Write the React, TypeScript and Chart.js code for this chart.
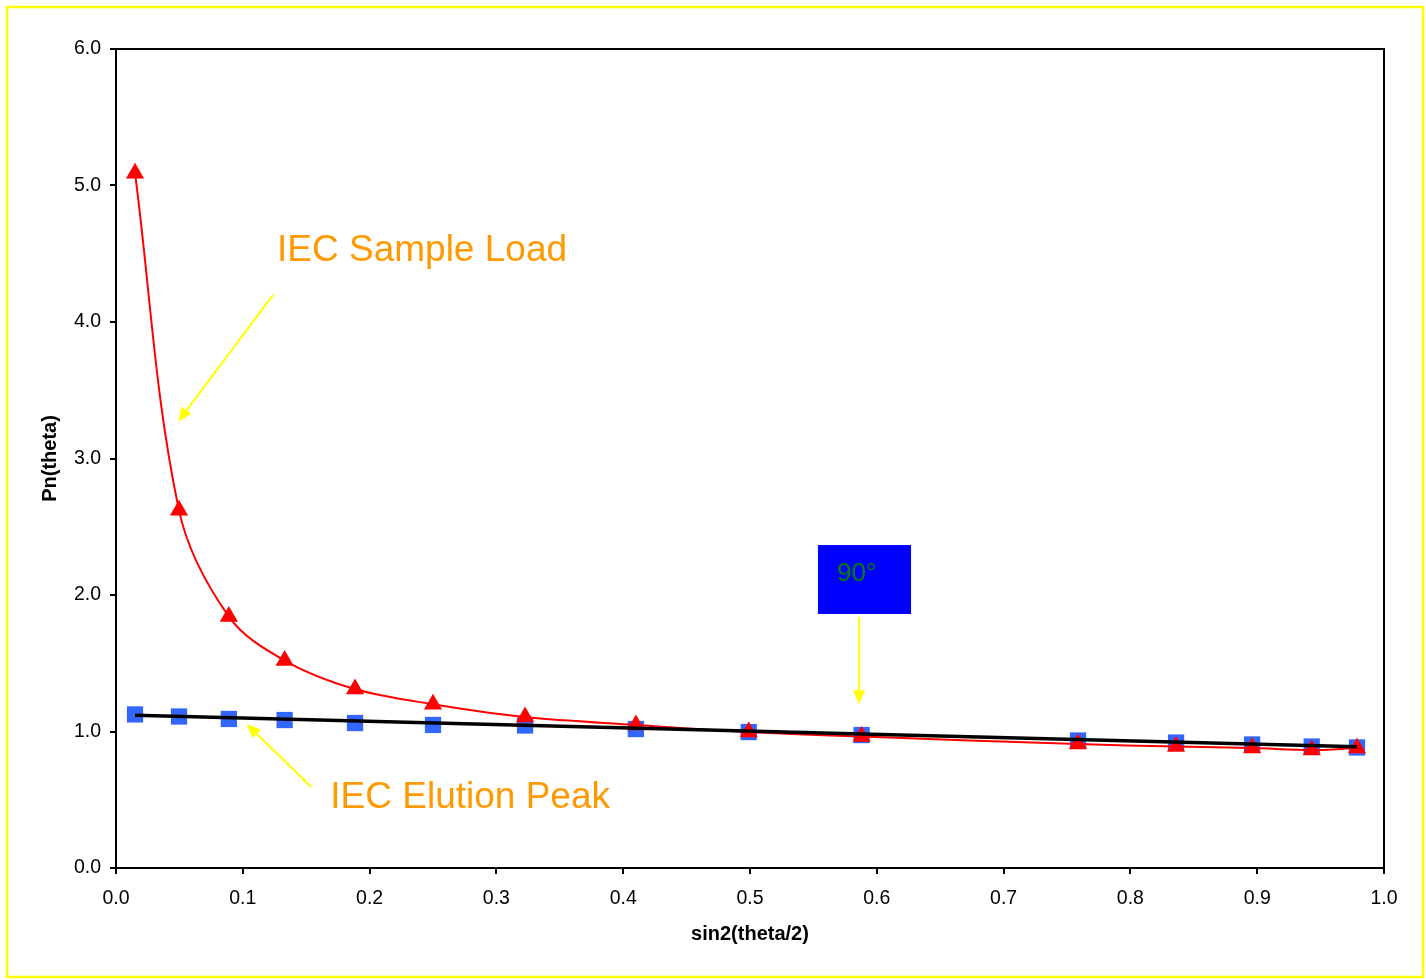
import React, { useEffect, useRef } from "react";
import { Chart, registerables } from "chart.js";

Chart.register(...registerables);

const xValues = [0.015, 0.0497, 0.089, 0.133, 0.1885, 0.25, 0.3226, 0.41, 0.499, 0.588, 0.7587, 0.836, 0.896, 0.943, 0.9787];
const sampleLoad = [5.09, 2.62, 1.842, 1.52, 1.311, 1.2, 1.106, 1.048, 0.996, 0.963, 0.908, 0.89, 0.879, 0.864, 0.879];
const elutionPeak = [1.125, 1.11, 1.092, 1.084, 1.062, 1.048, 1.044, 1.018, 0.996, 0.974, 0.934, 0.919, 0.905, 0.89, 0.883];
const trendX = [0.015, 0.9787];
const trendY = [1.119, 0.889];

const xTicks = [0, 0.1, 0.2, 0.3, 0.4, 0.5, 0.6, 0.7, 0.8, 0.9, 1.0];
const yTicks = [0, 1, 2, 3, 4, 5, 6];

const xTitle = "sin2(theta/2)";
const yTitle = "Pn(theta)";

const labelLoad = "IEC Sample Load";
const labelElution = "IEC Elution Peak";
const label90 = "90°";

const FONT = "'Liberation Sans', Arial, sans-serif";

const decorPlugin = {
  id: "decor",
  beforeDraw(chart: any) {
    const { ctx, width, height } = chart;
    ctx.save();
    ctx.fillStyle = "#ffffff";
    ctx.fillRect(0, 0, width, height);
    ctx.restore();
  },
  beforeDatasetsDraw(chart: any) {
    const { ctx, chartArea } = chart;
    ctx.save();
    ctx.strokeStyle = "#000000";
    ctx.lineWidth = 2;
    ctx.beginPath();
    ctx.moveTo(chartArea.left, chartArea.top);
    ctx.lineTo(chartArea.right, chartArea.top);
    ctx.lineTo(chartArea.right, chartArea.bottom);
    ctx.stroke();
    ctx.restore();
  },
  afterDraw(chart: any) {
    const { ctx, chartArea, width, height } = chart;
    const xs = chart.scales.x;
    const ys = chart.scales.y;
    const px = (v: number) => xs.getPixelForValue(v);
    const py = (v: number) => ys.getPixelForValue(v);
    ctx.save();

    // outer yellow frame
    ctx.strokeStyle = "#FFFF00";
    ctx.lineWidth = 2.5;
    ctx.strokeRect(7, 7, width - 10, height - 10);

    // axis titles
    ctx.fillStyle = "#000000";
    ctx.font = `bold 20px ${FONT}`;
    ctx.textAlign = "center";
    ctx.textBaseline = "middle";
    ctx.fillText(xTitle, (chartArea.left + chartArea.right) / 2, 934);
    ctx.save();
    ctx.translate(50, (chartArea.top + chartArea.bottom) / 2);
    ctx.rotate(-Math.PI / 2);
    ctx.fillText(yTitle, 0, 0);
    ctx.restore();

    // arrows
    const arrow = (x1: number, y1: number, x2: number, y2: number) => {
      const ax = px(x1), ay = py(y1), bx = px(x2), by = py(y2);
      const ang = Math.atan2(by - ay, bx - ax);
      const hl = 14, hw = 6;
      const baseX = bx - Math.cos(ang) * hl;
      const baseY = by - Math.sin(ang) * hl;
      ctx.strokeStyle = "#FFFF00";
      ctx.fillStyle = "#FFFF00";
      ctx.lineWidth = 2;
      ctx.beginPath();
      ctx.moveTo(ax, ay);
      ctx.lineTo(baseX, baseY);
      ctx.stroke();
      ctx.beginPath();
      ctx.moveTo(bx, by);
      ctx.lineTo(baseX + Math.sin(ang) * hw, baseY - Math.cos(ang) * hw);
      ctx.lineTo(baseX - Math.sin(ang) * hw, baseY + Math.cos(ang) * hw);
      ctx.closePath();
      ctx.fill();
    };
    arrow(0.124, 4.2, 0.049, 3.27);
    arrow(0.154, 0.593, 0.103, 1.055);
    arrow(0.586, 1.839, 0.586, 1.2);

    // orange labels
    ctx.fillStyle = "#FF9900";
    ctx.font = `37px ${FONT}`;
    ctx.textAlign = "left";
    ctx.textBaseline = "middle";
    ctx.fillText(labelLoad, px(0.127), py(4.52));
    ctx.fillText(labelElution, px(0.169), py(0.512));

    // blue box
    const bx1 = px(0.5536), bx2 = px(0.627), by1 = py(2.366), by2 = py(1.861);
    ctx.fillStyle = "#0000FF";
    ctx.fillRect(bx1, by1, bx2 - bx1, by2 - by1);
    ctx.fillStyle = "#008000";
    ctx.font = `26px ${FONT}`;
    ctx.fillText(label90, px(0.5686), py(2.155));

    ctx.restore();
  },
};

export default function App() {
  const ref = useRef<HTMLCanvasElement | null>(null);
  useEffect(() => {
    if (!ref.current) return;
    const chart = new Chart(ref.current, {
      type: "scatter",
      data: {
        datasets: [
          {
            label: "trend",
            data: trendX.map((x, i) => ({ x, y: trendY[i] })),
            showLine: true,
            borderColor: "#000000",
            borderWidth: 3.5,
            pointRadius: 0,
            order: 0,
          },
          {
            label: labelLoad,
            data: xValues.map((x, i) => ({ x, y: sampleLoad[i] })),
            showLine: true,
            borderColor: "#FF0000",
            borderWidth: 2,
            backgroundColor: "#FF0000",
            pointStyle: "triangle",
            pointRadius: 10.5,
            pointBorderWidth: 0,
            tension: 0.35,
            order: 1,
          },
          {
            label: labelElution,
            data: xValues.map((x, i) => ({ x, y: elutionPeak[i] })),
            showLine: false,
            backgroundColor: "#3366FF",
            borderColor: "#3366FF",
            pointStyle: "rect",
            pointRadius: 11.5,
            pointBorderWidth: 0,
            order: 2,
          },
        ],
      },
      options: {
        animation: false,
        responsive: false,
        devicePixelRatio: 1,
        layout: { padding: { left: 0, right: 42, top: 49, bottom: 0 } },
        plugins: { legend: { display: false }, tooltip: { enabled: false } },
        scales: {
          x: {
            type: "linear",
            min: 0,
            max: 1,
            afterBuildTicks: (s: any) => {
              s.ticks = xTicks.map((v) => ({ value: v }));
            },
            afterFit: (s: any) => {
              s.height = 112;
              s.paddingLeft = 0;
              s.paddingRight = 0;
            },
            ticks: {
              color: "#000000",
              font: { family: FONT, size: 19.5 },
              padding: 13,
              maxRotation: 0,
              callback: (v: any) => Number(v).toFixed(1),
            },
            grid: {
              display: true,
              drawOnChartArea: false,
              drawTicks: true,
              tickLength: 6,
              color: "#000000",
              lineWidth: 2,
            },
            border: { display: true, color: "#000000", width: 2 },
          },
          y: {
            type: "linear",
            min: 0,
            max: 6,
            afterBuildTicks: (s: any) => {
              s.ticks = yTicks.map((v) => ({ value: v }));
            },
            afterFit: (s: any) => {
              s.width = 116;
              s.paddingTop = 0;
              s.paddingBottom = 0;
            },
            ticks: {
              color: "#000000",
              font: { family: FONT, size: 19.5 },
              padding: 9,
              callback: (v: any) => Number(v).toFixed(1),
            },
            grid: {
              display: true,
              drawOnChartArea: false,
              drawTicks: true,
              tickLength: 6,
              color: "#000000",
              lineWidth: 2,
            },
            border: { display: true, color: "#000000", width: 2 },
          },
        },
      },
      plugins: [decorPlugin],
    } as any);
    return () => chart.destroy();
  }, []);
  return (
    <div style={{ position: "absolute", left: 0, top: 0, width: 1426, height: 980 }}>
      <canvas ref={ref} width={1426} height={980} />
    </div>
  );
}
